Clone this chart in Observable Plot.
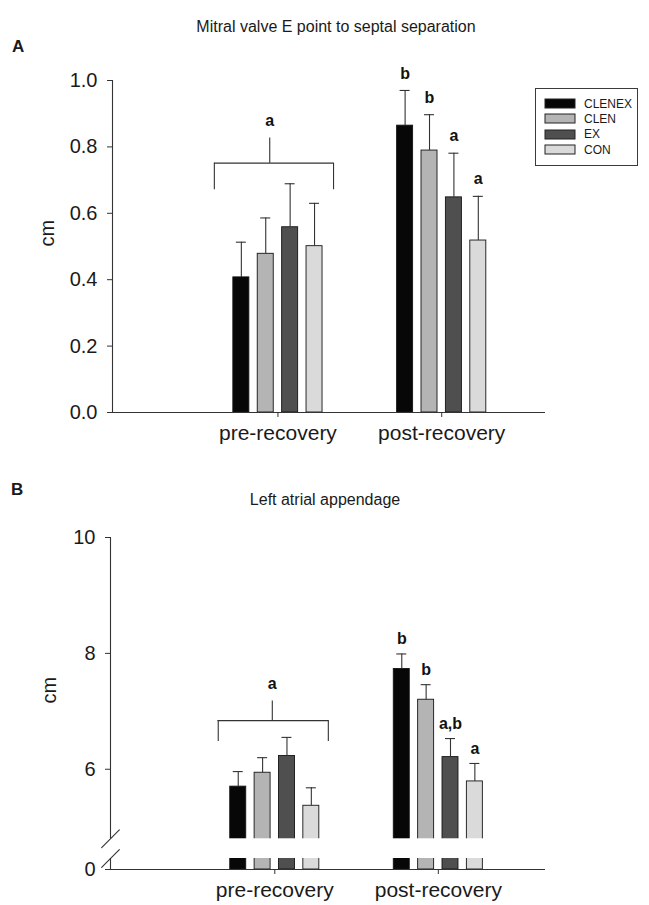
<!DOCTYPE html>
<html><head><meta charset="utf-8">
<script src="https://cdn.jsdelivr.net/npm/d3@7"></script>
<script src="https://cdn.jsdelivr.net/npm/@observablehq/plot@0.6"></script>
<style>
html,body{margin:0;padding:0;background:#fff;}
#root{position:relative;width:649px;height:905px;overflow:hidden;font-family:"Liberation Sans",Arial,Helvetica,sans-serif;color:#1a1a1a;}
#root > *{position:absolute;}
.ttl{font-size:16px;white-space:nowrap;transform:translate(-50%,-50%);}
.pl{font-size:17px;font-weight:bold;transform:translateY(-50%);}
#legend{left:535px;top:88px;width:101px;height:76px;border:1px solid #3a3a3a;background:#fff;}
#legend .lg-swatches{margin:0 !important;padding:7px 0 0 9px;font-size:12px !important;font-family:"Liberation Sans",Arial,sans-serif !important;color:#1a1a1a;}
#legend .lg-swatch{height:15.3px;padding-bottom:0 !important;}
#legend .lg-swatch svg{margin-right:9px !important;}
#legend .lg-swatch svg rect{stroke:#222;stroke-width:1px;}
</style></head>
<body><div id="root"></div>
<script>
// ---------- data ----------
const groups = ["pre-recovery", "post-recovery"];
const series = ["CLENEX", "CLEN", "EX", "CON"];
const colors = ["#070707", "#b4b4b4", "#4f4f4f", "#dadada"];

const titleA = "Mitral valve E point to septal separation";
const aTicks = [0, 0.2, 0.4, 0.6, 0.8, 1.0];
const aPreMean  = [0.407, 0.478, 0.558, 0.501];
const aPreErr   = [0.513, 0.586, 0.689, 0.630];
const aPostMean = [0.864, 0.789, 0.648, 0.518];
const aPostErr  = [0.970, 0.897, 0.781, 0.651];
const aPostLetters = ["b", "b", "a", "a"];
const aBracket = [{group: "pre-recovery", top: 0.751, leg: 0.671, stem: 0.827, label: "a"}];

const titleB = "Left atrial appendage";
const bTicks = [0, 6, 8, 10];
const bAxisMin = 4.27;          // broken axis: values below this collapse onto the 0 line
const bPreMean  = [5.70, 5.94, 6.23, 5.37];
const bPreErr   = [5.96, 6.20, 6.55, 5.68];
const bPostMean = [7.73, 7.20, 6.21, 5.79];
const bPostErr  = [7.99, 7.46, 6.53, 6.10];
const bPostLetters = ["b", "b", "a,b", "a"];
const bBracket = [{group: "pre-recovery", top: 6.84, leg: 6.48, stem: 7.18, label: "a"}];
const bBreak = [4.46, 4.80];    // axis break edges

// ---------- helpers ----------
const FONT = "Liberation Sans, Arial, Helvetica, sans-serif";
const STYLE = {fontFamily: FONT, background: "transparent", color: "#1a1a1a", overflow: "visible", fontSize: "20px"};
function makeRows(preM, preE, postM, postE, postL) {
  return [
    ...series.map((s, i) => ({group: groups[0], series: s, mean: preM[i], err: preE[i], letter: ""})),
    ...series.map((s, i) => ({group: groups[1], series: s, mean: postM[i], err: postE[i], letter: postL[i]}))
  ];
}
const rowsA = makeRows(aPreMean, aPreErr, aPostMean, aPostErr, aPostLetters);
const rowsB = makeRows(bPreMean, bPreErr, bPostMean, bPostErr, bPostLetters);

function dataMarks(rows, letterDy) {
  return [
    Plot.barY(rows, {fx: "group", x: "series", y: "mean", fill: "series", stroke: "#151515", strokeWidth: 0.9, inset: 0}),
    Plot.ruleX(rows, {fx: "group", x: "series", y1: "mean", y2: "err", stroke: "#333", strokeWidth: 1.1}),
    Plot.tickY(rows, {fx: "group", x: "series", y: "err", stroke: "#333", strokeWidth: 1.1, insetLeft: 3, insetRight: 3}),
    Plot.text(rows, {fx: "group", x: "series", y: "err", text: "letter", dy: letterDy, fontSize: 16, fontWeight: "bold", fill: "#111"})
  ];
}
function bracketMarks(br, o) {
  return [
    Plot.ruleY(br, {fx: "group", y: "top", insetLeft: o.insetLeft, insetRight: o.insetRight, stroke: "#333", strokeWidth: 1.1}),
    Plot.ruleX(br, {fx: "group", x: () => series[0], dx: o.leftDx, y1: "leg", y2: "top", stroke: "#333", strokeWidth: 1.1}),
    Plot.ruleX(br, {fx: "group", x: () => series[3], dx: o.rightDx, y1: "leg", y2: "top", stroke: "#333", strokeWidth: 1.1}),
    Plot.ruleX(br, {fx: "group", x: () => series[1], dx: o.stemDx, y1: "top", y2: "stem", stroke: "#333", strokeWidth: 1.1}),
    Plot.text(br, {fx: "group", x: () => series[1], dx: o.stemDx, y: "stem", dy: -17, text: "label", fontSize: 16, fontWeight: "bold", fill: "#111"})
  ];
}
const fxAxis = () => Plot.axisFx({anchor: "bottom", tickSize: 5, tickPadding: 8, fontSize: 21, label: null, stroke: "#333"});

// ---------- panel A ----------
const dimA = {width: 649, height: 460, marginLeft: 112, marginRight: 104, marginTop: 80, marginBottom: 48};
const yA = {domain: [0, 1]};
const barsA = Plot.plot({
  ...dimA, style: STYLE,
  fx: {domain: groups, paddingInner: 0.2, paddingOuter: 0.422, align: 0.723, round: false, label: null},
  x: {domain: series, paddingInner: 0.344, paddingOuter: 0.857, round: false, axis: null},
  y: {...yA, axis: null},
  color: {domain: series, range: colors},
  marks: [
    fxAxis(),
    ...dataMarks(rowsA, -17),
    ...bracketMarks(aBracket, {insetLeft: 2, insetRight: 9.6, leftDx: -27, rightDx: 19, stemDx: 4})
  ]
});
const axesA = Plot.plot({
  ...dimA, style: STYLE,
  x: {domain: [0, 1], axis: null},
  y: yA,
  marks: [
    Plot.axisY({ticks: aTicks, tickFormat: d3.format(".1f"), tickSize: 5, tickPadding: 10, fontSize: 20, label: null, stroke: "#333"}),
    Plot.ruleX([0], {stroke: "#333", strokeWidth: 1.1}),
    Plot.text(["cm"], {frameAnchor: "left", dx: -65, rotate: -90, fontSize: 20, fill: "#1a1a1a"}),
    Plot.ruleY([0], {stroke: "#333", strokeWidth: 1.1})
  ]
});

// ---------- panel B ----------
const dimB = {width: 649, height: 445, marginLeft: 110, marginRight: 104, marginTop: 77, marginBottom: 36};
const yB = {domain: [bAxisMin, 10], clamp: true};
const barsB = Plot.plot({
  ...dimB, style: STYLE,
  fx: {domain: groups, paddingInner: 0.2, paddingOuter: 0.43, align: 0.703, round: false, label: null},
  x: {domain: series, paddingInner: 0.344, paddingOuter: 0.857, round: false, axis: null},
  y: {...yB, axis: null},
  color: {domain: series, range: colors},
  marks: [
    fxAxis(),
    ...dataMarks(rowsB, -15),
    ...bracketMarks(bBracket, {insetLeft: 8.6, insetRight: 11.4, leftDx: -20, rightDx: 17, stemDx: 9.7})
  ]
});
const axesB = Plot.plot({
  ...dimB, style: STYLE,
  x: {domain: [0, 1], axis: null},
  y: yB,
  marks: [
    Plot.axisY({ticks: bTicks, tickFormat: d3.format("d"), tickSize: 5, tickPadding: 10, fontSize: 20, label: null, stroke: "#333"}),
    Plot.ruleX([0], {stroke: "#333", strokeWidth: 1.1}),
    Plot.text(["cm"], {frameAnchor: "left", dx: -61, rotate: -90, fontSize: 20, fill: "#1a1a1a"}),
    Plot.ruleY([bAxisMin], {stroke: "#333", strokeWidth: 1.1}),
    Plot.rect([bBreak], {y1: d => d[0], y2: d => d[1], fill: "white", insetLeft: -8}),
    Plot.vector(bBreak, {y: d => d, frameAnchor: "left", length: 25, rotate: 45, anchor: "middle", r: 0, stroke: "#333", strokeWidth: 1.1})
  ]
});

// ---------- assemble ----------
const root = document.getElementById("root");
for (const [el, top] of [[barsA, 0], [axesA, 0], [barsB, 460], [axesB, 460]]) {
  el.style.left = "0px"; el.style.top = top + "px";
  root.appendChild(el);
}
function addText(cls, txt, left, top) {
  const d = document.createElement("div");
  d.className = cls; d.textContent = txt;
  d.style.left = left + "px"; d.style.top = top + "px";
  root.appendChild(d);
}
addText("ttl", titleA, 336, 27);
addText("pl", "A", 12, 47);
addText("ttl", titleB, 325, 500);
addText("pl", "B", 11, 490);

const legend = document.createElement("div");
legend.id = "legend";
legend.appendChild(Plot.legend({color: {domain: series, range: colors}, legend: "swatches", columns: 1, swatchWidth: 30, swatchHeight: 9, className: "lg"}));
root.appendChild(legend);
</script>
</body></html>
